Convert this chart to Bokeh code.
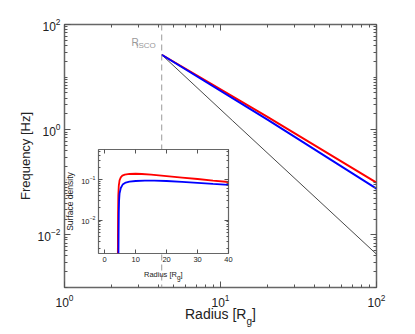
from bokeh.plotting import figure
from bokeh.models import (Range1d, FixedTicker, LogAxis, LinearAxis, Span, Label, Div,
                          LogTickFormatter, CustomJSTickFormatter)
from bokeh.layouts import column
from bokeh.embed import file_html
from bokeh.resources import INLINE

# ---------------- data ----------------
r_isco = 4.2

radius_main = [4.2, 20.0, 100.0]
freq_red = [26.6, 1.75, 0.099]
freq_blue = [26.6, 1.55, 0.076]

radius_black = [4.2, 11.9, 100.0]
freq_black = [26.6, 1.5, 0.0043]

inset_r_red = [4.25, 4.28, 4.32, 4.4, 4.55, 4.8, 5.2, 5.7, 6.5, 8, 10, 12, 15, 20, 25, 30, 35, 40]
inset_s_red = [0.0015, 0.005, 0.015, 0.04, 0.07, 0.095, 0.113, 0.125, 0.132, 0.137, 0.139, 0.137,
               0.132, 0.122, 0.112, 0.103, 0.094, 0.087]
inset_r_blue = [4.45, 4.5, 4.56, 4.65, 4.8, 5.2, 5.8, 6.8, 8, 10, 13, 16, 20, 25, 30, 35, 40]
inset_s_blue = [0.0015, 0.005, 0.015, 0.03, 0.045, 0.062, 0.075, 0.084, 0.089, 0.092, 0.094, 0.094,
                0.092, 0.088, 0.083, 0.078, 0.074]

x_major = [1, 10, 100]
y_major = [1e-2, 1, 1e2]
inset_x_major = [0, 10, 20, 30, 40]
inset_y_major = [1e-2, 1e-1]

FONT = "Liberation Sans"
AX = "#555555"
TXT = "#222222"
GREY = "#999999"

def log_minors(lo, hi):
    out = []
    for e in range(lo, hi):
        for k in range(1, 10):
            out.append(k * 10.0 ** e)
    return out

def style_axis(ax, fs):
    ax.axis_line_color = None
    ax.major_tick_line_color = AX
    ax.minor_tick_line_color = AX
    ax.major_tick_in = 6
    ax.major_tick_out = 0
    ax.minor_tick_in = 3
    ax.minor_tick_out = 0
    ax.major_label_text_font = FONT
    ax.major_label_text_color = TXT
    ax.major_label_text_font_size = fs
    ax.axis_label_text_font = FONT
    ax.axis_label_text_font_style = "normal"
    ax.axis_label_text_color = TXT

def mirror_axis(cls, ticker, tick_in, minor_in):
    ax = cls(ticker=ticker, formatter=CustomJSTickFormatter(code="return ''"))
    style_axis(ax, "8px")
    ax.major_tick_in = tick_in
    ax.minor_tick_in = minor_in
    ax.major_label_standoff = 0
    return ax

def txt(x, y, dx, dy, s, size, align="left", color=TXT):
    return Label(x=x, y=y, x_offset=dx, y_offset=dy, text=s, text_align=align,
                 text_baseline="alphabetic", text_font=FONT, text_font_size=size,
                 text_color=color)

def sub_label(left, top, size, sub_size, drop, width):
    html = ('<div style="font-family:\'Liberation Sans\';font-size:%spx;line-height:1;'
            'color:%s;white-space:nowrap;margin:0;padding:0;">Radius [R'
            '<span style="font-size:%spx;vertical-align:-%spx;line-height:0;">g</span>]</div>'
            % (size, TXT, sub_size, drop))
    return Div(text=html, width=width, height=int(size * 1.6),
               styles={"position": "absolute", "left": "%dpx" % left, "top": "%dpx" % top,
                       "margin": "0", "padding": "0"})

# ---------------- main figure ----------------
p = figure(x_axis_type="log", y_axis_type="log",
           x_range=Range1d(1, 100), y_range=Range1d(1e-3, 1e2),
           width=406, height=333,
           min_border_left=64, min_border_top=24, min_border_right=30, min_border_bottom=46,
           output_backend="svg", toolbar_location=None)
p.grid.visible = False
p.outline_line_color = "#666666"
p.outline_line_width = 1.5
p.background_fill_color = "white"
p.border_fill_color = "white"

xt = FixedTicker(ticks=x_major, minor_ticks=log_minors(0, 2))
yt = FixedTicker(ticks=y_major, minor_ticks=log_minors(-3, 2))
p.xaxis.ticker = xt
p.yaxis.ticker = yt
p.xaxis.formatter = LogTickFormatter()
p.yaxis.formatter = LogTickFormatter()
style_axis(p.xaxis[0], "12px")
style_axis(p.yaxis[0], "12px")
p.xaxis.major_label_standoff = 6
p.yaxis.major_label_standoff = 4
p.yaxis.axis_label = "Frequency [Hz]"
p.yaxis.axis_label_text_font_size = "13px"
p.yaxis.axis_label_standoff = 2

p.add_layout(mirror_axis(LogAxis, xt, 6, 3), "above")
p.add_layout(mirror_axis(LogAxis, yt, 6, 3), "right")

p.add_layout(Span(location=r_isco, dimension="height", line_color=GREY,
                  line_dash="6 4", line_width=1))

p.line(radius_black, freq_black, line_color="#333333", line_width=0.9)
p.line(radius_main, freq_red, line_color="#ff0000", line_width=2)
p.line(radius_main, freq_blue, line_color="#0000ff", line_width=2)

# R_ISCO label (anchored at the ISCO line, top of frame)
p.add_layout(txt(r_isco, 1e2, -6, -21, "ISCO", "8px", "right", GREY))
p.add_layout(txt(r_isco, 1e2, -23, -18, "R", "10px", "right", GREY))

# ---------------- inset figure ----------------
q = figure(y_axis_type="log",
           x_range=Range1d(-2, 40), y_range=Range1d(0.0015, 0.55),
           width=224, height=138,
           min_border_left=64, min_border_top=4, min_border_right=30, min_border_bottom=30,
           output_backend="svg", toolbar_location=None,
           styles={"position": "absolute", "left": "34px", "top": "145px"})
q.grid.visible = False
q.outline_line_color = "#666666"
q.outline_line_width = 1.2
q.background_fill_color = "white"
q.border_fill_color = None

ixt = FixedTicker(ticks=inset_x_major, minor_ticks=[])
iyt = FixedTicker(ticks=inset_y_major, minor_ticks=log_minors(-3, 0))
q.xaxis.ticker = ixt
q.yaxis.ticker = iyt
q.yaxis.formatter = LogTickFormatter()
style_axis(q.xaxis[0], "7.5px")
style_axis(q.yaxis[0], "7.5px")
for ax in (q.xaxis[0], q.yaxis[0]):
    ax.major_tick_in = 4
    ax.minor_tick_in = 2
q.xaxis.major_label_standoff = 3
q.yaxis.major_label_standoff = 3
q.yaxis.axis_label = "Surface density"
q.yaxis.axis_label_text_font_size = "8.5px"
q.yaxis.axis_label_standoff = 3

q.add_layout(mirror_axis(LinearAxis, ixt, 4, 2), "above")
q.add_layout(mirror_axis(LogAxis, iyt, 4, 2), "right")

q.line(inset_r_red, inset_s_red, line_color="#ff0000", line_width=1.8)
q.line(inset_r_blue, inset_s_blue, line_color="#0000ff", line_width=1.8)

# x-axis labels with subscript g (HTML text)
main_xlabel = sub_label(185, 307, 14, 10, 6, 110)
inset_xlabel = sub_label(144, 265, 7.5, 6.5, 3, 70)

layout = column(p, q, main_xlabel, inset_xlabel, styles={"position": "relative"})
open("out.html", "w").write(file_html(layout, INLINE))
